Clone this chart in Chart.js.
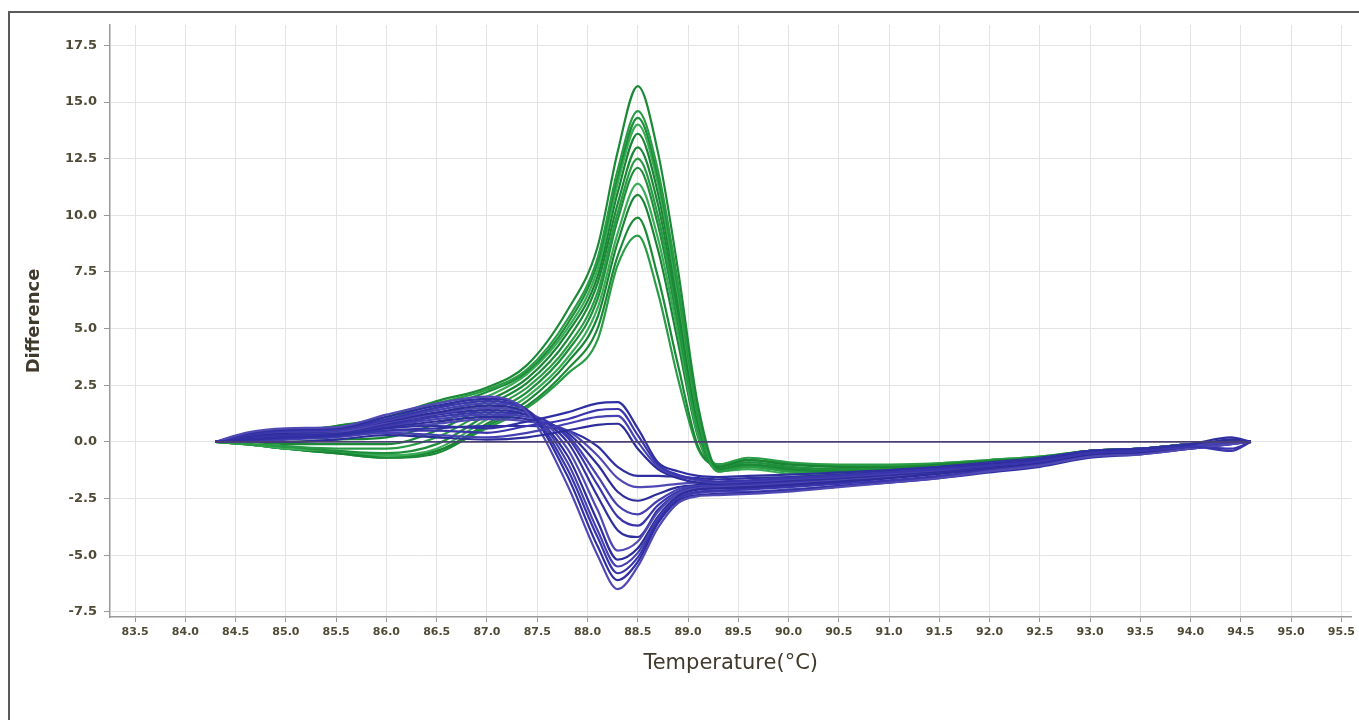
<!DOCTYPE html>
<html>
<head>
<meta charset="utf-8">
<title>Melt curve difference plot</title>
<script src="https://cdn.jsdelivr.net/npm/chart.js@4.4.1/dist/chart.umd.min.js"></script>
<style>
  html, body { margin: 0; padding: 0; background: #fff; }
  #wrap { position: relative; width: 1359px; height: 720px; overflow: hidden; }
  #frame { position: absolute; left: 8px; top: 11px; width: 1400px; height: 800px; border: 2px solid #5a5a5a; }
  #chart { position: absolute; left: 0; top: 0; }
</style>
</head>
<body>
<div id="wrap">
  <div id="frame"></div>
  <canvas id="chart" width="1359" height="720"></canvas>
</div>
<script>
'use strict';

// temperature steps shared by every run (°C)
const temps = [84.3, 84.6, 85.0, 85.5, 86.0, 86.5, 87.0, 87.4, 87.8, 88.1, 88.3, 88.5, 88.7, 88.9,
  89.1, 89.3, 89.6, 90.0, 90.5, 91.0, 91.5, 92.0, 92.5, 93.0, 93.5, 94.0, 94.4, 94.6];

// axis ticks
const xTicks = [83.5, 84.0, 84.5, 85.0, 85.5, 86.0, 86.5, 87.0, 87.5, 88.0, 88.5, 89.0, 89.5,
  90.0, 90.5, 91.0, 91.5, 92.0, 92.5, 93.0, 93.5, 94.0, 94.5, 95.0, 95.5];
const yTicks = [-7.5, -5.0, -2.5, 0.0, 2.5, 5.0, 7.5, 10.0, 12.5, 15.0, 17.5];

// green runs (single sharp peak near 88.5)
const green1 = [0, 0.2, 0.4, 0.7, 1.1, 1.8, 2.4, 3.4, 5.8, 8.6, 12.8, 15.7, 12.8, 7.6, 1.6, -1.2, -1.0, -1.2, -1.3, -1.3, -1.15, -1.0, -0.8, -0.45, -0.35, -0.15, 0.0, 0.0];
const green2 = [0, 0.2, 0.4, 0.7, 1.0, 1.7, 2.3, 3.2, 5.4, 8.1, 12.0, 14.6, 12.0, 7.0, 1.3, -1.3, -1.1, -1.3, -1.4, -1.35, -1.2, -1.0, -0.85, -0.5, -0.4, -0.2, 0.0, 0.0];
const green3 = [0, 0.1, 0.3, 0.5, 0.8, 1.5, 2.2, 3.1, 5.2, 7.9, 11.7, 14.3, 11.7, 6.8, 1.2, -1.2, -0.9, -1.1, -1.2, -1.2, -1.1, -0.9, -0.7, -0.4, -0.3, -0.1, 0.0, 0.0];
const green4 = [0, 0.1, 0.2, 0.4, 0.6, 1.2, 2.0, 3.0, 5.0, 7.6, 11.4, 14.0, 11.4, 6.5, 1.1, -1.3, -1.2, -1.4, -1.5, -1.4, -1.25, -1.05, -0.9, -0.5, -0.4, -0.2, -0.05, 0.0];
const green5 = [0, 0.0, 0.0, 0.1, 0.2, 0.8, 1.8, 2.8, 4.8, 7.3, 11.0, 13.6, 11.0, 6.2, 0.9, -1.1, -0.8, -1.0, -1.1, -1.15, -1.0, -0.85, -0.7, -0.4, -0.3, -0.1, 0.0, 0.0];
const green6 = [0, 0.0, -0.1, -0.1, -0.1, 0.5, 1.6, 2.6, 4.5, 7.0, 10.5, 13.0, 10.5, 5.8, 0.8, -1.2, -1.0, -1.2, -1.3, -1.25, -1.1, -0.95, -0.75, -0.45, -0.35, -0.15, 0.0, 0.0];
const green7 = [0, -0.1, -0.2, -0.3, -0.3, 0.2, 1.4, 2.4, 4.2, 6.6, 10.1, 12.5, 10.0, 5.5, 0.6, -1.0, -0.7, -0.9, -1.0, -1.0, -0.95, -0.8, -0.65, -0.4, -0.3, -0.1, 0.0, 0.0];
const green8 = [0, -0.1, -0.2, -0.4, -0.5, -0.1, 1.2, 2.2, 4.0, 6.3, 9.8, 12.1, 9.6, 5.2, 0.5, -1.3, -1.1, -1.3, -1.4, -1.35, -1.2, -1.0, -0.8, -0.5, -0.4, -0.2, 0.0, 0.0];
const green9 = [0, -0.1, -0.3, -0.4, -0.6, -0.3, 1.0, 2.0, 3.7, 5.9, 9.2, 11.4, 9.0, 4.8, 0.3, -1.1, -0.9, -1.1, -1.2, -1.2, -1.05, -0.9, -0.7, -0.4, -0.3, -0.1, 0.0, 0.0];
const green10 = [0, -0.1, -0.3, -0.5, -0.6, -0.4, 0.8, 1.8, 3.5, 5.5, 8.8, 10.9, 8.5, 4.4, 0.2, -1.2, -1.0, -1.2, -1.3, -1.3, -1.15, -0.95, -0.75, -0.45, -0.35, -0.15, 0.0, 0.0];
const green11 = [0, -0.1, -0.3, -0.5, -0.7, -0.5, 0.7, 1.6, 3.2, 5.0, 8.2, 9.9, 7.3, 3.4, -0.2, -1.0, -0.8, -1.0, -1.1, -1.1, -1.0, -0.85, -0.7, -0.4, -0.3, -0.1, 0.0, 0.0];
const green12 = [0, -0.1, -0.3, -0.5, -0.7, -0.4, 0.6, 1.5, 3.0, 4.5, 7.8, 9.1, 6.6, 2.8, -0.3, -1.0, -0.8, -0.95, -1.05, -1.05, -0.95, -0.8, -0.65, -0.4, -0.3, -0.1, 0.0, 0.0];

// blue runs with a small hump at 88.3
const blue1 = [0, 0.1, 0.2, 0.3, 0.6, 0.7, 0.6, 0.9, 1.3, 1.7, 1.75, 0.6, -0.9, -1.3, -1.5, -1.55, -1.5, -1.45, -1.35, -1.25, -1.1, -0.95, -0.75, -0.4, -0.3, -0.1, 0.2, 0.0];
const blue2 = [0, 0.05, 0.15, 0.25, 0.5, 0.5, 0.4, 0.7, 1.0, 1.4, 1.45, 0.3, -1.0, -1.45, -1.65, -1.75, -1.7, -1.6, -1.5, -1.35, -1.2, -1.05, -0.85, -0.5, -0.4, -0.2, -0.4, 0.0];
const blue3 = [0, 0.0, 0.1, 0.2, 0.4, 0.3, 0.2, 0.4, 0.8, 1.1, 1.15, 0.0, -1.1, -1.5, -1.7, -1.8, -1.75, -1.65, -1.55, -1.4, -1.25, -1.05, -0.85, -0.5, -0.4, -0.2, 0.0, 0.0];
const blue4 = [0, 0.0, 0.0, 0.1, 0.3, 0.2, 0.1, 0.2, 0.5, 0.75, 0.8, -0.3, -1.2, -1.6, -1.8, -1.85, -1.8, -1.7, -1.6, -1.45, -1.3, -1.1, -0.9, -0.55, -0.45, -0.2, 0.1, 0.0];

// blue runs dipping to a trough at 88.3
const blue5 = [0, 0.4, 0.6, 0.65, 1.2, 1.7, 2.0, 1.3, -1.9, -5.0, -6.5, -5.5, -3.8, -2.7, -2.4, -2.35, -2.3, -2.2, -2.0, -1.8, -1.6, -1.3, -1.05, -0.65, -0.55, -0.3, -0.1, 0.0];
const blue6 = [0, 0.35, 0.55, 0.6, 1.1, 1.6, 1.9, 1.4, -1.5, -4.6, -6.1, -5.3, -3.6, -2.6, -2.35, -2.3, -2.25, -2.15, -1.95, -1.8, -1.6, -1.35, -1.1, -0.7, -0.55, -0.3, -0.1, 0.0];
const blue7 = [0, 0.3, 0.5, 0.55, 1.0, 1.5, 1.8, 1.4, -1.2, -4.2, -5.8, -5.1, -3.5, -2.5, -2.2, -2.15, -2.1, -2.0, -1.85, -1.7, -1.5, -1.25, -1.0, -0.6, -0.45, -0.25, -0.05, 0.0];
const blue8 = [0, 0.3, 0.45, 0.5, 0.95, 1.4, 1.7, 1.4, -0.9, -3.9, -5.5, -4.9, -3.4, -2.5, -2.25, -2.2, -2.2, -2.1, -1.95, -1.75, -1.55, -1.3, -1.05, -0.65, -0.5, -0.3, -0.1, 0.0];
const blue9 = [0, 0.25, 0.4, 0.5, 0.9, 1.3, 1.6, 1.3, -0.6, -3.5, -5.2, -4.7, -3.3, -2.4, -2.1, -2.05, -2.0, -1.9, -1.75, -1.6, -1.4, -1.2, -0.95, -0.55, -0.45, -0.25, 0.0, 0.0];
const blue10 = [0, 0.25, 0.4, 0.45, 0.85, 1.25, 1.5, 1.3, -0.3, -3.0, -4.8, -4.4, -3.1, -2.3, -2.05, -2.0, -1.95, -1.85, -1.7, -1.55, -1.35, -1.15, -0.9, -0.55, -0.45, -0.25, -0.05, 0.0];
const blue11 = [0, 0.2, 0.35, 0.4, 0.8, 1.2, 1.4, 1.2, 0.0, -2.4, -3.9, -4.2, -3.0, -2.3, -2.1, -2.05, -2.05, -1.95, -1.8, -1.6, -1.4, -1.15, -0.9, -0.55, -0.45, -0.2, 0.0, 0.0];
const blue12 = [0, 0.2, 0.3, 0.4, 0.75, 1.1, 1.3, 1.2, 0.2, -1.9, -3.3, -3.7, -2.8, -2.2, -2.0, -1.95, -1.9, -1.8, -1.65, -1.5, -1.3, -1.1, -0.85, -0.5, -0.4, -0.2, -0.3, 0.0];
const blue13 = [0, 0.15, 0.3, 0.35, 0.7, 1.0, 1.2, 1.1, 0.3, -1.5, -2.8, -3.2, -2.6, -2.1, -1.95, -1.9, -1.85, -1.75, -1.6, -1.45, -1.25, -1.05, -0.85, -0.5, -0.4, -0.2, 0.1, 0.0];
const blue14 = [0, 0.15, 0.25, 0.3, 0.65, 0.9, 1.1, 1.0, 0.4, -1.0, -2.2, -2.6, -2.3, -2.0, -1.9, -1.85, -1.8, -1.7, -1.55, -1.4, -1.2, -1.0, -0.8, -0.45, -0.35, -0.15, 0.0, 0.0];
const blue15 = [0, 0.1, 0.2, 0.3, 0.6, 0.8, 1.0, 0.9, 0.5, -0.6, -1.6, -2.0, -1.95, -1.85, -1.8, -1.8, -1.75, -1.65, -1.5, -1.35, -1.15, -0.95, -0.75, -0.4, -0.3, -0.1, 0.0, 0.0];
const blue16 = [0, 0.1, 0.2, 0.25, 0.5, 0.6, 0.7, 0.7, 0.5, -0.2, -1.1, -1.5, -1.5, -1.55, -1.6, -1.65, -1.6, -1.55, -1.45, -1.3, -1.1, -0.9, -0.7, -0.4, -0.3, -0.1, 0.0, 0.0];

// flat reference trace
const baseline = [0, 0, 0, 0, 0, 0, 0, 0, 0, 0, 0, 0, 0, 0, 0, 0, 0, 0, 0, 0, 0, 0, 0, 0, 0, 0, 0, 0];

const greenRuns = [green1, green2, green3, green4, green5, green6, green7, green8, green9, green10, green11, green12];
const blueRuns = [blue1, blue2, blue3, blue4, blue5, blue6, blue7, blue8, blue9, blue10, blue11, blue12, blue13, blue14, blue15, blue16];

const greenColors = ['#1b8a36', '#2a9c45', '#1f8f3b', '#3aac56', '#198534'];
const blueColors = ['#2f2fa2', '#3a35ac', '#4641b2', '#2c2c9a', '#5049b4'];

const FONT = '"DejaVu Sans", "Liberation Sans", Arial, sans-serif';

function toPoints(values) {
  return temps.map((t, i) => ({ x: t, y: values[i] }));
}

function runDataset(values, color) {
  return {
    data: toPoints(values),
    borderColor: color,
    borderWidth: 2.2,
    pointRadius: 0,
    cubicInterpolationMode: 'monotone',
    fill: false,
  };
}

// first dataset draws on top: baseline, then blue, then green underneath
const datasets = [];
datasets.push({
  data: toPoints(baseline),
  borderColor: '#4a3f70',
  borderWidth: 1.6,
  pointRadius: 0,
  fill: false,
});
for (let i = 0; i < blueRuns.length; i++) {
  datasets.push(runDataset(blueRuns[i], blueColors[i % blueColors.length]));
}
for (let i = 0; i < greenRuns.length; i++) {
  datasets.push(runDataset(greenRuns[i], greenColors[i % greenColors.length]));
}

let canvasElem = document.getElementById('chart');

function renderChart() {
  return new Chart(canvasElem, {
    type: 'line',
    data: { datasets: datasets },
    options: {
      responsive: false,
      animation: false,
      layout: {
        padding: { left: 20, top: 25, right: 4, bottom: 40 },
      },
      plugins: {
        legend: { display: false },
        tooltip: { enabled: false },
      },
      scales: {
        x: {
          type: 'linear',
          min: 83.25,
          max: 95.6,
          afterBuildTicks: (scale) => {
            scale.ticks = xTicks.map((v) => ({ value: v }));
          },
          afterFit: (scale) => {
            scale.height = 63;
          },
          grid: { color: '#e4e4e4', tickColor: '#9a9a9a', tickLength: 5 },
          border: { color: '#9a9a9a', width: 1.5 },
          ticks: {
            color: '#4f4a35',
            padding: 4,
            maxRotation: 0,
            autoSkip: false,
            font: { family: FONT, size: 11, weight: 'bold' },
            callback: (value) => value.toFixed(1),
          },
          title: {
            display: true,
            text: 'Temperature(°C)',
            color: '#3f3a2c',
            padding: { top: 4, bottom: 4 },
            font: { family: FONT, size: 21 },
          },
        },
        y: {
          min: -7.73,
          max: 18.4,
          afterBuildTicks: (scale) => {
            scale.ticks = yTicks.map((v) => ({ value: v }));
          },
          afterFit: (scale) => {
            scale.width = 90;
          },
          grid: { color: '#e4e4e4', tickColor: '#9a9a9a', tickLength: 6 },
          border: { color: '#9a9a9a', width: 1.5 },
          ticks: {
            color: '#4f4a35',
            padding: 7,
            font: { family: FONT, size: 13, weight: 'bold' },
            callback: (value) => value.toFixed(1),
          },
          title: {
            display: true,
            text: 'Difference',
            color: '#3f3a2c',
            padding: { top: 4, bottom: 4 },
            font: { family: FONT, size: 18, weight: 'bold' },
          },
        },
      },
    },
  });
}

renderChart();
</script>
</body>
</html>
